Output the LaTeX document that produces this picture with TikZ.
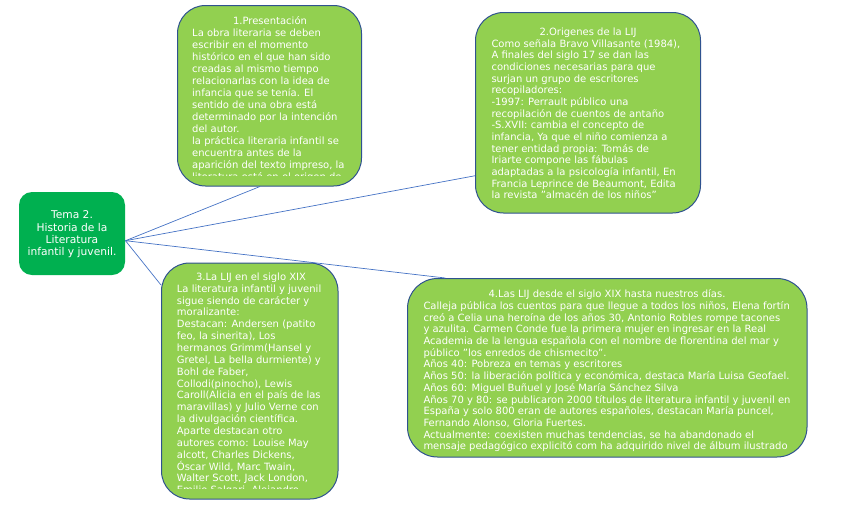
\documentclass[tikz,border=0pt]{standalone}
\usepackage{fontspec}
\setmainfont{DejaVu Sans}
\definecolor{lgreen}{HTML}{92D050}
\definecolor{dgreen}{HTML}{00B050}
\definecolor{bord}{HTML}{2F528F}
\definecolor{conn}{HTML}{4472C4}
\tikzset{
  card/.style={draw=bord, line width=1pt, fill=lgreen, rounded corners=28pt, inner sep=0pt},
  hubbox/.style={draw=none, fill=dgreen, rounded corners=13pt, inner sep=0pt},
  txt/.style={anchor=base west, inner sep=0pt, text=white, font=\fontsize{10}{11}\selectfont},
  ttl/.style={anchor=base, inner sep=0pt, text=white, font=\fontsize{10}{11}\selectfont},
  hubtxt/.style={anchor=base, inner sep=0pt, text=white, font=\fontsize{10.7}{12}\selectfont},
  link/.style={draw=conn, line width=0.7pt}
}
\begin{document}
\begin{tikzpicture}[x=1pt,y=-1pt]
\useasboundingbox (0,0) rectangle (848,515);
% boxes
\node[hubbox, minimum width=106pt, minimum height=83pt] (hub) at (72,233.5) {};
\node[card, minimum width=184pt, minimum height=180.5pt] (b1) at (269.5,95.75) {};
\node[card, minimum width=225pt, minimum height=200.5pt] (b2) at (588,112.75) {};
\node[card, minimum width=176.5pt, minimum height=236pt] (b3) at (249.75,381) {};
\node[card, minimum width=399.5pt, minimum height=178.5pt, rounded corners=30pt] (b4) at (607.25,367.75) {};
% connectors
\coordinate (h) at (125.5,240.7);
\draw[link] (h) -- ([xshift=-9.5pt]b1.south);
\draw[link] (h) -- ([yshift=-63pt]b2.west);
\draw[link] (h) -- ([yshift=96pt]b3.west);
\draw[link] (h) -- ([xshift=-162pt]b4.north);
% hub text
\foreach \t [count=\i from 0] in {{Tema 2.},{Historia de la},{Literatura},{infantil y juvenil.}}
  \node[hubtxt, name=ht\i] at (72,{218.8+12.2*\i}) {\t};
% box 1
\node[ttl] (t1) at (270,24.6) {1.Presentación};
\begin{scope}
\clip (178,5) rectangle (362,175);
\foreach \t [count=\i] in {{La obra literaria se deben},{escribir en el momento},{histórico en el que han sido},{creadas al mismo tiempo},{relacionarlas con la idea de},{infancia que se tenía. El},{sentido de una obra está},{determinado por la intención},{del autor.},{la práctica literaria infantil se},{encuentra antes de la},{aparición del texto impreso, la},{literatura está en el origen de}}
  \node[txt, name=l1\i] at (192,{24.6+12*\i}) {\t};
\end{scope}
% box 2
\node[ttl] (t2) at (588,35.6) {2.Origenes de la LIJ};
\foreach \t [count=\i] in {{Como señala Bravo Villasante (1984),},{A finales del siglo 17 se dan las},{condiciones necesarias para que},{surjan un grupo de escritores},{recopiladores:},{-1997: Perrault público una},{recopilación de cuentos de antaño},{-S.XVII: cambia el concepto de},{infancia, Ya que el niño comienza a},{tener entidad propia: Tomás de},{Iriarte compone las fábulas},{adaptadas a la psicología infantil, En},{Francia Leprince de Beaumont, Edita},{la revista "almacén de los niños"}}
  \node[txt, name=l2\i] at (491.3,{35.6+11.67*\i}) {\t};
% box 3
\node[ttl] (t3) at (251,280.3) {3.La LIJ en el siglo XIX};
\begin{scope}
\clip (162,263) rectangle (338,488.5);
\foreach \t [count=\i] in {{La literatura infantil y juvenil},{sigue siendo de carácter y},{moralizante:},{Destacan: Andersen (patito},{feo, la sinerita), Los},{hermanos Grimm(Hansel y},{Gretel, La bella durmiente) y},{Bohl de Faber,},{Collodi(pinocho), Lewis},{Caroll(Alicia en el país de las},{maravillas) y Julio Verne con},{la divulgación científica.},{Aparte destacan otro},{autores como: Louise May},{alcott, Charles Dickens,},{Óscar Wild, Marc Twain,},{Walter Scott, Jack London,},{Emilio Salgari, Alejandro}}
  \node[txt, name=l3\i] at (176.7,{280.3+11.86*\i}) {\t};
\end{scope}
% box 4
\node[ttl] (t4) at (607,297.6) {4.Las LIJ desde el siglo XIX hasta nuestros días.};
\begin{scope}
\clip (408,279) rectangle (807,452);
\foreach \t [count=\i] in {{Calleja pública los cuentos para que llegue a todos los niños, Elena fortín},{creó a Celia una heroína de los años 30, Antonio Robles rompe tacones},{y azulita. Carmen Conde fue la primera mujer en ingresar en la Real},{Academia de la lengua española con el nombre de florentina del mar y},{público "los enredos de chismecito".},{Años 40: Pobreza en temas y escritores},{Años 50: la liberación política y económica, destaca María Luisa Geofael.},{Años 60: Miguel Buñuel y José María Sánchez Silva},{Años 70 y 80: se publicaron 2000 títulos de literatura infantil y juvenil en},{España y solo 800 eran de autores españoles, destacan María puncel,},{Fernando Alonso, Gloria Fuertes.},{Actualmente: coexisten muchas tendencias, se ha abandonado el},{mensaje pedagógico explicitó com ha adquirido nivel de álbum ilustrado}}
  \node[txt, name=l4\i] at (423.3,{297.6+11.72*\i}) {\t};
\end{scope}
\end{tikzpicture}
\end{document}
